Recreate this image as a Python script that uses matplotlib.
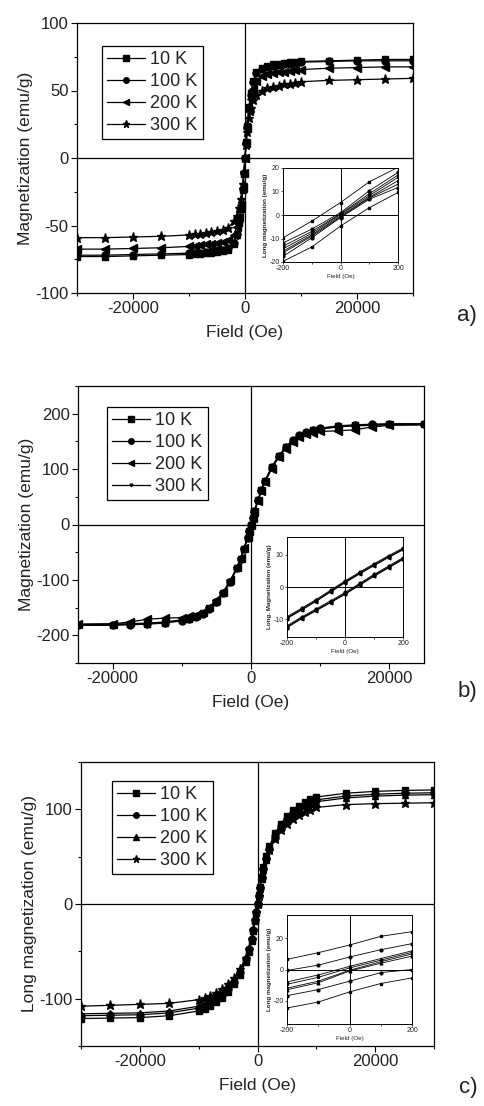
import matplotlib
matplotlib.use("Agg")
import matplotlib.pyplot as plt
from matplotlib.ticker import MultipleLocator

plt.rcParams["font.family"] = ["Liberation Sans", "DejaVu Sans"]
plt.rcParams["axes.unicode_minus"] = False

temps = ["10 K", "100 K", "200 K", "300 K"]

# ---- panel a ----
field_a = [-30000, -25000, -20000, -15000, -10000, -9000, -8000, -7000, -6000, -5000,
           -4000, -3000, -2000, -1500, -1000, -700, -400, -200, 0, 200, 400, 700, 1000,
           1500, 2000, 3000, 4000, 5000, 6000, 7000, 8000, 9000, 10000, 15000, 20000,
           25000, 30000]
mag_a_10 = [-73, -73, -72.5, -72, -71.5, -71, -71, -70.5, -70, -69.5, -69, -68, -64,
            -57, -48, -38, -24, -12, 0, 12, 24, 38, 48, 57, 64, 67, 68.5, 69.5, 70,
            70.5, 71, 71, 71.5, 72, 72.5, 73, 73]
mag_a_100 = [-72, -72, -71.5, -71, -70.5, -70, -70, -69.5, -69, -68.5, -68, -67, -63,
             -56, -47, -37, -23, -11, 0, 11, 23, 37, 47, 56, 63, 66, 67.5, 68.5, 69,
             69.5, 70, 70.5, 71, 71.5, 72, 72, 72]
mag_a_200 = [-67.5, -67.5, -67, -66.5, -65.5, -65, -64.5, -64, -63.5, -63, -62, -60.5,
             -57, -51, -44, -35, -22, -11, 0, 11, 22, 35, 44, 51, 57, 60.5, 62, 63,
             63.5, 64, 64.5, 65, 65.5, 66.5, 67, 67.5, 67.5]
mag_a_300 = [-59, -59, -58.5, -58, -57, -56.5, -56, -55.5, -55, -54, -53, -51.5, -47,
             -43, -37, -30, -19, -10, 0, 10, 19, 30, 37, 43, 47, 50, 51.5, 52.5, 53.5,
             54.5, 55, 55.5, 56.5, 57.5, 58, 58.5, 59]

inset_field_a = [-200, -100, 0, 100, 200]
inset_a_up = [[-9.7, -2.6, 5.3, 14.1, 20.3],
              [-11.9, -6.0, 1.0, 10.3, 18.1],
              [-13.3, -7.0, 0.5, 9.0, 17.0],
              [-14.4, -7.8, 0.3, 8.2, 16.0]]
inset_a_down = [[-19.7, -13.6, -4.7, 3.1, 9.6],
                [-17.6, -9.7, -1.1, 6.7, 11.7],
                [-16.1, -9.0, -0.8, 7.2, 13.1],
                [-15.4, -8.5, -0.3, 7.5, 14.6]]

# ---- panel b ----
field_b = [-25000, -20000, -17500, -15000, -12500, -10000, -9000, -8000, -7000, -6000,
           -5000, -4000, -3000, -2000, -1500, -1000, -500, -250, 0, 250, 500, 1000,
           1500, 2000, 3000, 4000, 5000, 6000, 7000, 8000, 9000, 10000, 12500, 15000,
           17500, 20000, 25000]
mag_b_10 = [-181, -181, -180, -179, -177, -173, -170, -166, -160, -151, -139, -123,
            -103, -78, -62, -44, -24, -12, 0, 12, 24, 44, 62, 78, 103, 123, 139, 151,
            160, 166, 170, 173, 177, 179, 180, 181, 181]
mag_b_100 = [-182, -182, -181, -180, -178, -174, -171, -167, -161, -152, -140, -124,
             -104, -79, -63, -45, -25, -12, 0, 12, 25, 45, 63, 79, 104, 124, 140, 152,
             161, 167, 171, 174, 178, 180, 181, 182, 182]
mag_b_200 = [-180, -179, -176, -171, -169, -168, -166, -163, -158, -149, -137, -121,
             -101, -76, -60, -42, -23, -11, 0, 11, 23, 42, 60, 76, 101, 121, 137, 149,
             158, 163, 166, 168, 169, 171, 176, 179, 180]
mag_b_300 = [-180, -180, -179, -178, -176, -172, -169, -165, -159, -150, -138, -122,
             -102, -77, -61, -43, -24, -11, 0, 11, 24, 43, 61, 77, 102, 122, 138, 150,
             159, 165, 169, 172, 176, 178, 179, 180, 180]

inset_field_b = [-200, -150, -100, -50, 0, 50, 100, 150, 200]
inset_b_up = [[-9.5, -6.9, -4.2, -1.3, 1.6, 4.3, 6.9, 9.4, 11.8],
              [-9.2, -6.6, -3.9, -1.0, 1.9, 4.6, 7.2, 9.7, 12.1],
              [-9.8, -7.2, -4.5, -1.6, 1.3, 4.0, 6.6, 9.1, 11.5],
              [-9.6, -7.0, -4.3, -1.4, 1.5, 4.2, 6.8, 9.3, 11.7]]
inset_b_down = [[-12.3, -9.6, -7.1, -4.6, -2.0, 0.8, 3.6, 6.2, 8.8],
                [-12.0, -9.3, -6.8, -4.3, -1.7, 1.1, 3.9, 6.5, 9.1],
                [-12.6, -9.9, -7.4, -4.9, -2.3, 0.5, 3.3, 5.9, 8.5],
                [-12.4, -9.7, -7.2, -4.7, -2.1, 0.7, 3.5, 6.1, 8.7]]

# ---- panel c ----
field_c = field_a
mag_c_10 = [-121, -120.5, -120, -118, -113, -111, -108, -104, -99, -93, -85, -75, -61,
            -51, -39, -29, -18, -9, 0, 9, 18, 29, 39, 51, 61, 75, 85, 93, 99, 104, 108,
            111, 113, 117, 119, 120, 120.5]
mag_c_100 = [-118, -117.5, -117, -115, -110, -108, -105, -101, -96, -90, -82, -72, -58,
             -48, -37, -27, -17, -8.5, 0, 8.5, 17, 27, 37, 48, 58, 72, 82, 90, 96, 101,
             105, 108, 110, 114, 116, 117, 117.5]
mag_c_200 = [-116, -115.5, -115, -113, -108, -106, -103, -99, -94, -88, -80, -70, -57,
             -47, -36, -26, -16.5, -8, 0, 8, 16.5, 26, 36, 47, 57, 70, 80, 88, 94, 99,
             103, 106, 108, 112, 114, 115, 115.5]
mag_c_300 = [-108, -107, -106, -105, -101, -99, -97, -94, -90, -85, -78, -69, -57, -48,
             -37, -27, -17, -8.5, 0, 8.5, 17, 27, 37, 48, 57, 69, 78, 85, 90, 94, 97,
             99, 102, 105, 106, 106.5, 107]

inset_field_c = [-200, -100, 0, 100, 200]
inset_c_up = [[6.5, 10.8, 15.7, 21.3, 24.3],
              [-0.6, 2.8, 8.0, 12.7, 16.6],
              [-8.0, -3.5, 2.0, 7.0, 12.0],
              [-9.5, -5.0, 1.0, 6.0, 11.0]]
inset_c_down = [[-24.7, -20.9, -14.4, -9.0, -5.4],
                [-16.8, -12.9, -7.5, -2.0, 0.0],
                [-13.0, -8.5, -1.0, 4.0, 8.6],
                [-12.0, -7.5, -0.5, 5.0, 10.0]]

W, H = 484, 1106
TXT = "#222222"


def box(l, t, r, b):
    return [l / W, 1 - b / H, (r - l) / W, (b - t) / H]


def style_main(ax, xlim, ylim, xmaj, xmin, ymaj, ymin, ylabel):
    ax.set_xlim(*xlim)
    ax.set_ylim(*ylim)
    ax.axhline(0, color="black", lw=0.9, zorder=1)
    ax.axvline(0, color="black", lw=0.9, zorder=1)
    ax.xaxis.set_major_locator(MultipleLocator(xmaj))
    ax.xaxis.set_minor_locator(MultipleLocator(xmin))
    ax.yaxis.set_major_locator(MultipleLocator(ymaj))
    ax.yaxis.set_minor_locator(MultipleLocator(ymin))
    ax.tick_params(which="major", direction="out", length=4, width=0.8,
                   labelsize=12, colors="black", labelcolor=TXT, pad=2)
    ax.tick_params(which="minor", direction="out", length=2.5, width=0.8)
    for s in ax.spines.values():
        s.set_linewidth(0.9)
    ax.set_xlabel("Field (Oe)", fontsize=12.5, color=TXT, labelpad=6)
    ax.set_ylabel(ylabel, fontsize=12.5, color=TXT, labelpad=2)


def style_inset(ax, ylim, ymaj, ylabel):
    ax.set_xlim(-200, 200)
    ax.set_ylim(*ylim)
    ax.axhline(0, color="black", lw=0.7, zorder=1)
    ax.axvline(0, color="black", lw=0.7, zorder=1)
    ax.xaxis.set_major_locator(MultipleLocator(200))
    ax.xaxis.set_minor_locator(MultipleLocator(100))
    ax.yaxis.set_major_locator(MultipleLocator(ymaj))
    ax.tick_params(which="both", direction="out", length=1.5, width=0.5,
                   labelsize=5, labelcolor=TXT, pad=1)
    for s in ax.spines.values():
        s.set_linewidth(0.7)
    ax.set_xlabel("Field (Oe)", fontsize=4.5, color=TXT, labelpad=1)
    ax.set_ylabel(ylabel, fontsize=4.5, color=TXT, labelpad=1, fontweight="bold")


def add_legend(ax, handles, anchor):
    leg = ax.legend(handles=handles, labels=temps, loc="upper left",
                    bbox_to_anchor=anchor, fontsize=13, frameon=True,
                    fancybox=False, edgecolor="black", framealpha=1,
                    handlelength=2.1, handletextpad=0.3, labelspacing=0.28,
                    borderpad=0.28, borderaxespad=0, markerscale=0.8)
    leg.get_frame().set_linewidth(0.9)
    for t in leg.get_texts():
        t.set_color(TXT)


fig = plt.figure(figsize=(W / 100, H / 100), dpi=100)

# panel a
ax = fig.add_axes(box(77, 23, 413, 293))
markers_a = ["s", "o", "<", "*"]
sizes_a = [5, 5, 5.5, 6.5]
hs = []
for m_vals, mk, ms in zip([mag_a_10, mag_a_100, mag_a_200, mag_a_300], markers_a, sizes_a):
    h, = ax.plot(field_a, m_vals, color="black", lw=0.9, marker=mk, ms=ms, zorder=3)
    hs.append(h)
style_main(ax, (-30000, 30000), (-100, 100), 20000, 10000, 50, 25,
           "Magnetization (emu/g)")
add_legend(ax, hs, (0.074, 0.915))

ins = fig.add_axes(box(283, 168, 398, 262))
for up, dn, mk in zip(inset_a_up, inset_a_down, markers_a):
    ins.plot(inset_field_a, up, color="black", lw=0.6, marker=mk, ms=2)
    ins.plot(inset_field_a, dn, color="black", lw=0.6, marker=mk, ms=2)
style_inset(ins, (-20, 20), 10, "Long magnetization (emu/g)")

# panel b
ax = fig.add_axes(box(78, 386, 424, 663))
markers_b = ["s", "o", "<", "v"]
sizes_b = [5, 5, 5.5, 2.5]
hs = []
for m_vals, mk, ms in zip([mag_b_10, mag_b_100, mag_b_200, mag_b_300], markers_b, sizes_b):
    h, = ax.plot(field_b, m_vals, color="black", lw=0.9, marker=mk, ms=ms, zorder=3)
    hs.append(h)
style_main(ax, (-25000, 25000), (-250, 250), 20000, 10000, 100, 50,
           "Magnetization (emu/g)")
add_legend(ax, hs, (0.084, 0.924))

ins = fig.add_axes(box(287, 537, 403, 637))
for up, dn, mk in zip(inset_b_up, inset_b_down, markers_b):
    ins.plot(inset_field_b, up, color="black", lw=0.6, marker=mk, ms=2)
    ins.plot(inset_field_b, dn, color="black", lw=0.6, marker=mk, ms=2)
style_inset(ins, (-15.5, 15.5), 10, "Long. Magnetization (emu/g)")

# panel c
ax = fig.add_axes(box(81, 762, 434, 1046))
markers_c = ["s", "o", "^", "*"]
sizes_c = [5, 5, 5, 6.5]
hs = []
for m_vals, mk, ms in zip([mag_c_10, mag_c_100, mag_c_200, mag_c_300], markers_c, sizes_c):
    h, = ax.plot(field_c, m_vals, color="black", lw=0.9, marker=mk, ms=ms, zorder=3)
    hs.append(h)
style_main(ax, (-30000, 30000), (-150, 150), 20000, 10000, 100, 50,
           "Long magnetization (emu/g)")
add_legend(ax, hs, (0.088, 0.933))

ins = fig.add_axes(box(287, 915, 412, 1024))
for up, dn, mk in zip(inset_c_up, inset_c_down, markers_c):
    ins.plot(inset_field_c, up, color="black", lw=0.6, marker=mk, ms=2)
    ins.plot(inset_field_c, dn, color="black", lw=0.6, marker=mk, ms=2)
style_inset(ins, (-35, 35), 20, "Long magnetization (emu/g)")

fig.text(467 / W, 1 - 315 / H, "a)", fontsize=16, color=TXT, ha="center", va="center")
fig.text(467 / W, 1 - 692 / H, "b)", fontsize=16, color=TXT, ha="center", va="center")
fig.text(468 / W, 1 - 1088 / H, "c)", fontsize=16, color=TXT, ha="center", va="center")

fig.savefig("out.png", dpi=100, facecolor="white")
